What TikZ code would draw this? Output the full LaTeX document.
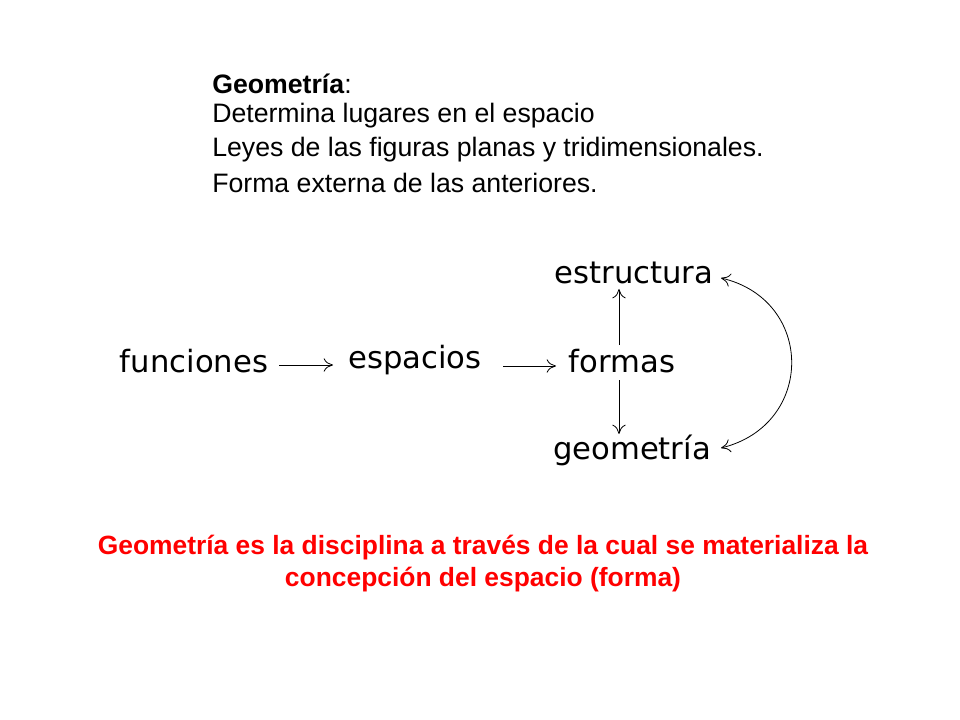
\documentclass[tikz,border=0pt]{standalone}
\usepackage{fontspec}
\setmainfont{Liberation Sans}
\newfontfamily\dvs{DejaVu Sans}
\usetikzlibrary{arrows.meta}
\definecolor{myred}{RGB}{255,0,0}
\begin{document}
\begin{tikzpicture}[x=0.75pt,y=-0.75pt,
  word/.style={font=\dvs\fontsize{23}{27}\selectfont,inner sep=0pt},
  arr/.style={-{To[length=7pt,width=10pt]},line width=0.6pt},
  info/.style={font=\fontsize{20}{24}\selectfont,anchor=west,inner sep=0pt},
  red/.style={font=\bfseries\fontsize{19.8}{23}\selectfont,text=myred,inner sep=0pt}]
\useasboundingbox[fill=white] (0,0) rectangle (960,720);
\node[info] (t1) at (212,84) {\textbf{Geometría}:};
\node[info] (t2) at (212,116) {Determina lugares en el espacio};
\node[info] (t3) at (212,150) {Leyes de las figuras planas y tridimensionales.};
\node[info] (t4) at (212,183) {Forma externa de las anteriores.};
\node[word] (fun) at (194,361) {funciones};
\node[word] (esp) at (415,360) {espacios};
\node[word] (for) at (622,361) {formas};
\node[word] (est) at (634,273) {estructura};
\node[word] (geo) at (632,450) {geometría};
\coordinate (a1) at (279,365); \coordinate (a2) at (333,365);
\coordinate (b1) at (503,366); \coordinate (b2) at (556,366);
\coordinate (c1) at (619,345); \coordinate (c2) at (619,289);
\coordinate (d1) at (619,380); \coordinate (d2) at (619,434);
\draw[arr] (a1) -- (a2);
\draw[arr] (b1) -- (b2);
\draw[arr] (c1) -- (c2);
\draw[arr] (d1) -- (d2);
\coordinate (e1) at (721,278); \coordinate (e2) at (721,448);
\draw[{To[length=7pt,width=10pt]}-{To[length=7pt,width=10pt]},line width=0.6pt]
  (e1) .. controls (815,300) and (815,425) .. (e2);
\node[red] (r1) at (483,548) {Geometría es la disciplina a través de la cual se materializa la};
\node[red] (r2) at (483,580) {concepción del espacio (forma)};
\end{tikzpicture}
\end{document}
